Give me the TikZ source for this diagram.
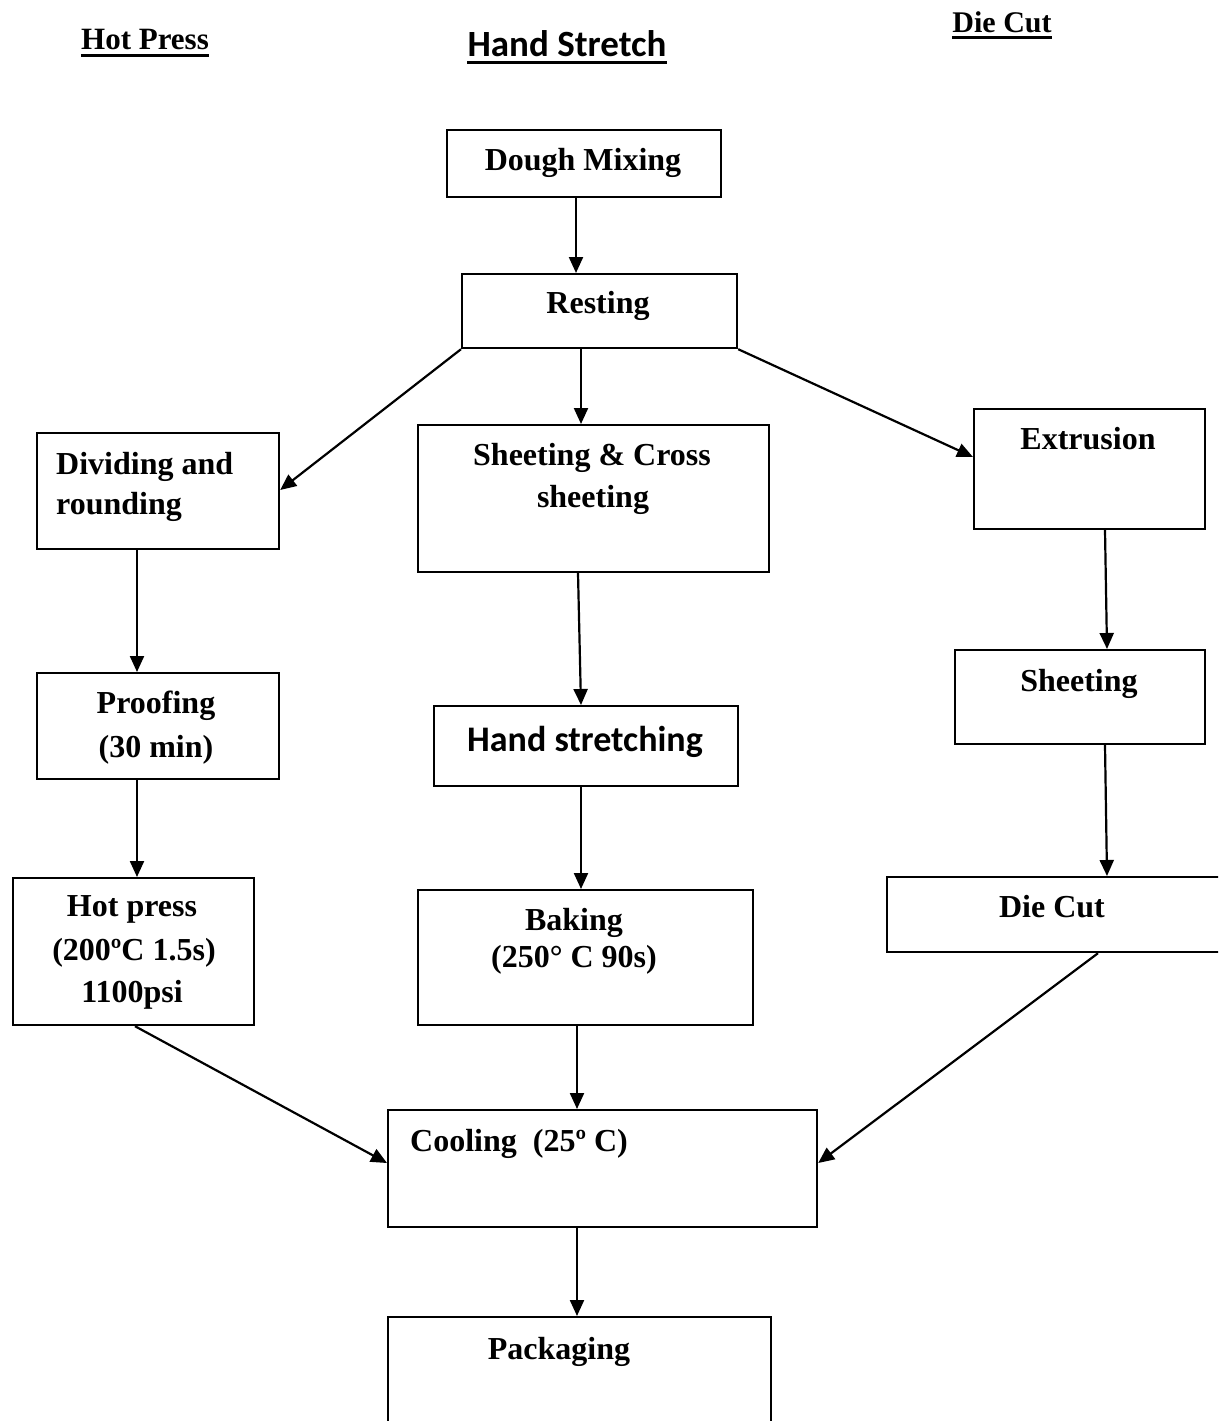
\documentclass[tikz,border=0pt]{standalone}
\usepackage{fontspec}
\setmainfont{Liberation Serif}
\newfontfamily\calibri{Carlito}
\usetikzlibrary{arrows.meta,calc}
\tikzset{
  box/.style={draw, line width=2.2pt, inner sep=0pt, anchor=north west},
  lbl/.style={inner sep=0pt, anchor=base, font=\fontsize{32}{38}\selectfont\bfseries},
  lblw/.style={lbl, anchor=base west},
  cal/.style={inner sep=0pt, anchor=base, font=\fontsize{36}{42}\selectfont\calibri\bfseries},
  hdr/.style={inner sep=0pt, anchor=base, font=\fontsize{31}{36}\selectfont\bfseries},
  uline/.style={line width=3pt},
  arr/.style={line width=2.2pt, -{Triangle[length=16pt,width=14pt]}}
}
\begin{document}
\begin{tikzpicture}[x=1pt,y=-1pt]
\useasboundingbox (0,0) rectangle (1218,1421);
\clip (0,0) rectangle (1218,1421);
% headers
\node[hdr] (hHot) at (145,50) {Hot Press};
\node[cal, font=\fontsize{37}{42}\selectfont\calibri\bfseries] (hHand) at (567,57) {Hand Stretch};
\node[hdr, font=\fontsize{30}{36}\selectfont\bfseries] (hDie) at (1002,33) {Die Cut};
\draw[uline] ($(hHot.base west)+(0,6)$) -- ($(hHot.base east)+(0,6)$);
\draw[uline] ($(hHand.base west)+(0,6)$) -- ($(hHand.base east)+(0,6)$);
\draw[uline] ($(hDie.base west)+(0,5)$) -- ($(hDie.base east)+(0,5)$);
% boxes
\node[box, minimum width=274pt, minimum height=67pt] (dough) at (446,129) {};
\node[box, minimum width=275pt, minimum height=74pt] (rest) at (461,273) {};
\node[box, minimum width=242pt, minimum height=116pt] (divide) at (36,432) {};
\node[box, minimum width=351pt, minimum height=147pt] (sheet) at (417,424) {};
\node[box, minimum width=231pt, minimum height=120pt] (extr) at (973,408) {};
\node[box, minimum width=242pt, minimum height=106pt] (proof) at (36,672) {};
\node[box, minimum width=304pt, minimum height=80pt] (hands) at (433,705) {};
\node[box, minimum width=250pt, minimum height=94pt] (sheet2) at (954,649) {};
\node[box, minimum width=241pt, minimum height=147pt] (hot) at (12,877) {};
\node[box, minimum width=335pt, minimum height=135pt] (bake) at (417,889) {};
\node[box, minimum width=350pt, minimum height=75pt] (die) at (886,876) {};
\node[box, minimum width=429pt, minimum height=117pt] (cool) at (387,1109) {};
\node[box, minimum width=383pt, minimum height=130pt] (pack) at (387,1316) {};
% texts
\node[lbl] (tdough) at (583,170) {Dough Mixing};
\node[lbl] (trest) at (598,313) {Resting};
\node[lblw] (tdiv1) at (56,474) {Dividing and};
\node[lblw] (tdiv2) at (56,514) {rounding};
\node[lbl] (tsh1) at (592,465) {Sheeting \& Cross};
\node[lbl] (tsh2) at (593,507) {sheeting};
\node[lbl] (textr) at (1088,449) {Extrusion};
\node[lbl] (tpr1) at (156,713) {Proofing};
\node[lbl] (tpr2) at (156,757) {(30 min)};
\node[cal] (thands) at (585,751) {Hand stretching};
\node[lbl] (tsh3) at (1079,691) {Sheeting};
\node[lbl] (thot1) at (132,916) {Hot press};
\node[lbl] (thot2) at (134,960) {(200ºC 1.5s)};
\node[lbl] (thot3) at (132,1002) {1100psi};
\node[lbl] (tbake1) at (574,930) {Baking};
\node[lbl] (tbake2) at (574,967) {(250° C 90s)};
\node[lbl] (tdie) at (1052,917) {Die Cut};
\node[lblw] (tcool) at (410,1151) {Cooling~~(25º C)};
\node[lbl] (tpack) at (559,1359) {Packaging};
% connectors
\draw[arr] ($(dough.south west)+(130,0)$) -- ($(rest.north west)+(115,0)$);
\draw[arr] ($(rest.south west)+(120,0)$) -- ($(sheet.north west)+(164,0)$);
\draw[arr] (rest.south west) -- ($(divide.north east)+(0,58)$);
\draw[arr] (rest.south east) -- ($(extr.north west)+(0,49)$);
\draw[arr] ($(divide.south west)+(101,0)$) -- ($(proof.north west)+(101,0)$);
\draw[arr] ($(sheet.south west)+(161,0)$) -- ($(hands.north west)+(148,0)$);
\draw[arr] ($(extr.south west)+(132,0)$) -- ($(sheet2.north west)+(153,0)$);
\draw[arr] ($(proof.south west)+(101,0)$) -- ($(hot.north west)+(125,0)$);
\draw[arr] ($(hands.south west)+(148,0)$) -- ($(bake.north west)+(164,0)$);
\draw[arr] ($(sheet2.south west)+(151,0)$) -- ($(die.north west)+(221,0)$);
\draw[arr] ($(hot.south west)+(123,0)$) -- ($(cool.north west)+(0,54)$);
\draw[arr] ($(bake.south west)+(160,0)$) -- ($(cool.north west)+(190,0)$);
\draw[arr] ($(die.south west)+(212,0)$) -- ($(cool.north east)+(0,54)$);
\draw[arr] ($(cool.south west)+(190,0)$) -- ($(pack.north west)+(190,0)$);
\end{tikzpicture}
\end{document}
